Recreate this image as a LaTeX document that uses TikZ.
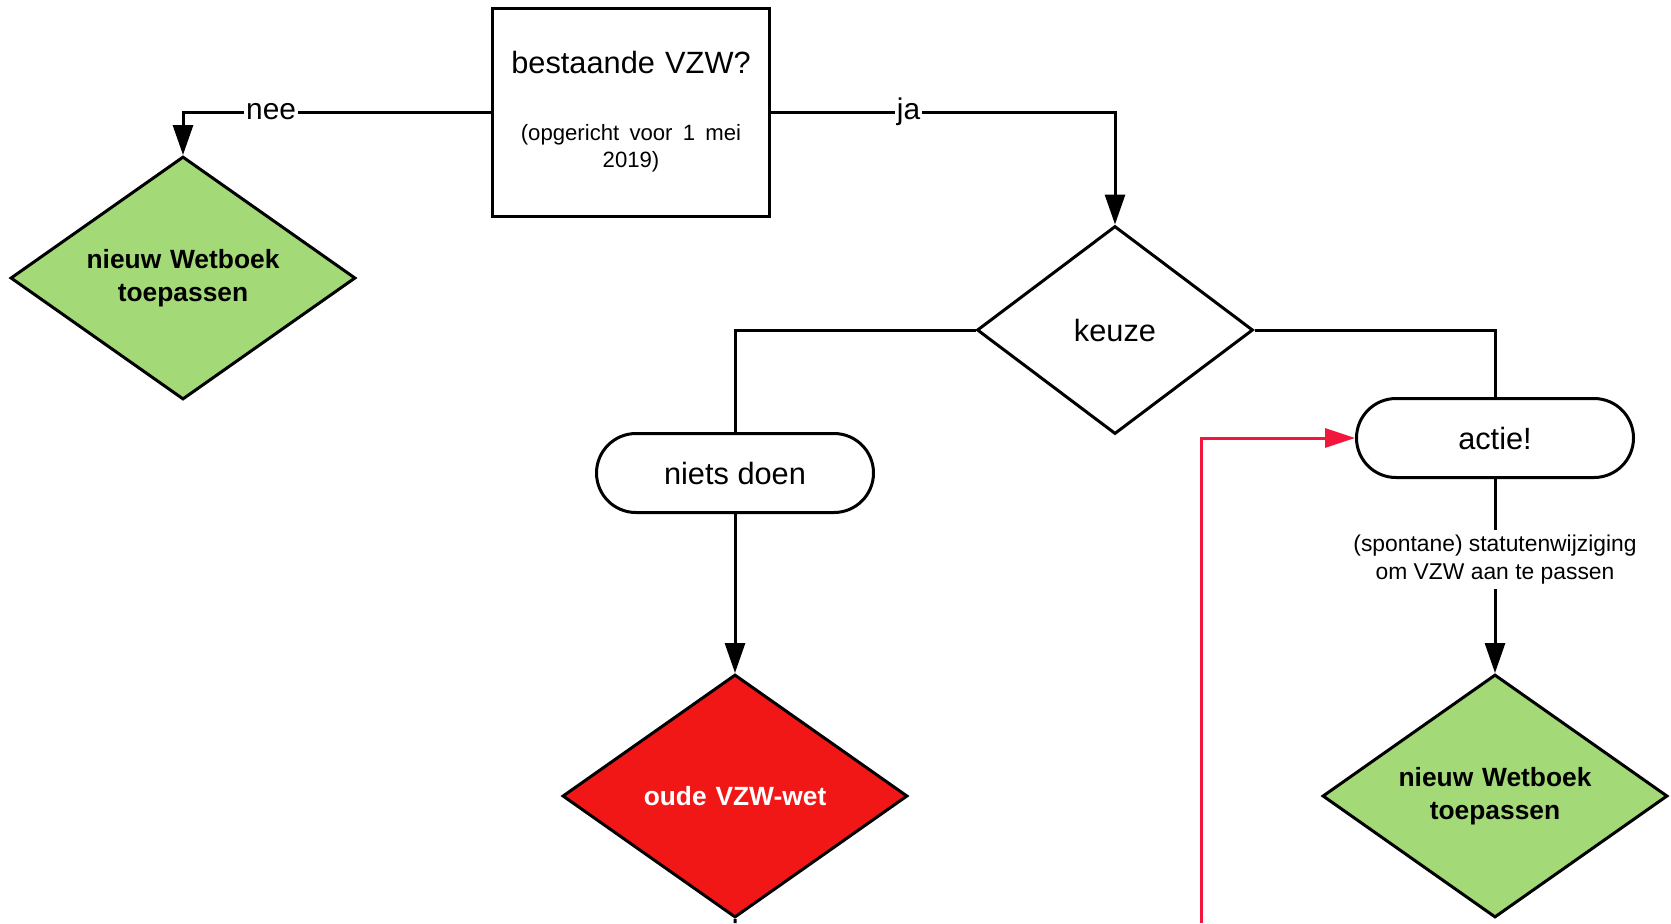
\documentclass[tikz,border=0pt]{standalone}
\usepackage{fontspec}
\setmainfont{Liberation Sans}
\usepackage{tikz}
\usetikzlibrary{shapes.geometric, arrows.meta}
\definecolor{groen}{HTML}{A3D977}
\definecolor{rood}{HTML}{F21717}
\definecolor{roodlijn}{HTML}{F2163C}
\tikzstyle{vraag} = [rectangle, minimum width=5.54cm, minimum height=4.16cm, text width=5.0cm, draw=black, line width=0.06cm, font=\fontsize{17.5}{21}\selectfont]
\tikzstyle{decision} = [diamond, aspect=1.33, minimum width=5.52cm, minimum height=4.16cm, inner sep=0pt, text centered, draw=black, line width=0.06cm, font=\fontsize{17.5}{21}\selectfont]
\tikzstyle{startstop} = [rectangle, rounded corners=0.79cm, minimum width=5.54cm, minimum height=1.58cm, text centered, draw=black, line width=0.06cm, fill=white, font=\fontsize{17.5}{21}\selectfont]
\tikzstyle{uitkomst} = [diamond, aspect=1.42, minimum width=6.9cm, minimum height=4.86cm, inner sep=0pt, text width=4cm, text centered, draw=black, line width=0.06cm, font=\fontsize{15}{18.7}\selectfont\bfseries]
\tikzstyle{lijn} = [line width=0.06cm]
\tikzstyle{arrow} = [line width=0.06cm, -{Triangle[length=0.6cm, width=0.4cm]}]
\tikzstyle{rodepijl} = [line width=0.06cm, draw=roodlijn, -{Triangle[length=0.6cm, width=0.38cm]}]
\tikzstyle{tak} = [fill=white, inner sep=0.04cm, font=\fontsize{17}{20}\selectfont]

\begin{document}
\begin{tikzpicture}[node distance = 1cm]
  \useasboundingbox (0,0) rectangle (33.42,-18.46);
  \node (bestaand) [vraag] at (12.62,-2.24) {\centering bestaande VZW?\par\vspace{22pt}{\fontsize{12.6}{15.7}\selectfont (opgericht voor 1 mei\par 2019)\par}};
  \node (nieuwlinks) [uitkomst, fill=groen, left of = bestaand, xshift = -7.96cm, yshift = -3.32cm] {nieuw Wetboek\\toepassen};
  \node (keuze) [decision, right of = bestaand, xshift = 8.68cm, yshift = -4.36cm] {keuze};
  \node (niets) [startstop, left of = keuze, xshift = -6.6cm, yshift = -2.86cm] {niets doen};
  \node (oud) [uitkomst, fill=rood, text=white, below of = niets, yshift = -5.46cm] {oude VZW-wet};
  \node (actie) [startstop, right of = keuze, xshift = 6.6cm, yshift = -2.16cm] {actie!};
  \node (nieuwrechts) [uitkomst, fill=groen, below of = actie, yshift = -6.16cm] {nieuw Wetboek\\toepassen};
  \coordinate (uit) at (14.7,-18.46);
  \coordinate (terug) at (24.02,-18.46);
  \draw [arrow] (bestaand.west) -| node[tak, pos = 0.357] {nee} (nieuwlinks.north);
  \draw [arrow] (bestaand.east) -| node[tak, pos = 0.2] {ja} (keuze.north);
  \draw [lijn] (keuze.west) -| (niets.north);
  \draw [lijn] (keuze.east) -| (actie.north);
  \draw [arrow] (niets) -- (oud);
  \draw [arrow] (actie) -- node[fill=white, inner sep=0.1cm, align=center, pos = 0.414, font=\fontsize{13}{15.7}\selectfont] {(spontane) statutenwijziging\\om VZW aan te passen} (nieuwrechts);
  \draw [lijn] (oud.south) -- (uit);
  \draw [rodepijl] (terug) |- (actie.west);
\end{tikzpicture}
\end{document}
